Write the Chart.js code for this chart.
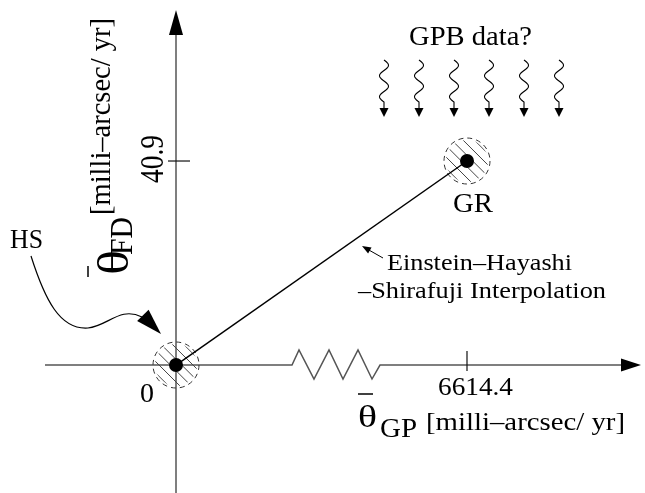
<!DOCTYPE html>
<html>
<head>
<meta charset="utf-8">
<script src="https://cdn.jsdelivr.net/npm/chart.js@4.4.1/dist/chart.umd.min.js"></script>
<style>
  html, body { margin: 0; padding: 0; background: #fff; }
  canvas { display: block; }
</style>
</head>
<body>
<canvas id="diagram" width="645" height="493"></canvas>
<script>
// values
var pointNames = ['HS', 'GR'];
var gpValues = [0, 6614.4];   // geodetic precession [milli-arcsec/yr]
var fdValues = [0, 40.9];     // frame dragging [milli-arcsec/yr]
var xTickValues = [6614.4];
var xTickLabels = ['6614.4'];
var yTickValues = [40.9];
var yTickLabels = ['40.9'];
var originLabel = '0';
var lineLabel = ['Einstein\u2013Hayashi', '\u2013Shirafuji Interpolation'];
var gpbLabel = 'GPB data?';
var axisUnit = '[milli\u2013arcsec/ yr]';

var FONT = '"Liberation Serif"';

//Draw a string squeezed/stretched to a given length
function fitText(c, str, x, y, size, len, rotate) {
  c.save();
  c.font = size + 'px ' + FONT;
  var w = c.measureText(str).width;
  c.translate(x, y);
  if (rotate) c.rotate(-Math.PI / 2);
  c.scale(len / w, 1);
  c.fillText(str, 0, 0);
  c.restore();
}

function arrowHead(c, tx, ty, dx, dy, len, half) {
  var n = Math.sqrt(dx * dx + dy * dy);
  dx /= n; dy /= n;
  var bx = tx - dx * len, by = ty - dy * len;
  c.beginPath();
  c.moveTo(tx, ty);
  c.lineTo(bx - dy * half, by + dx * half);
  c.lineTo(bx + dy * half, by - dx * half);
  c.closePath();
  c.fill();
}

function hatchCircle(c, cx, cy) {
  c.save();
  c.beginPath();
  c.arc(cx, cy, 21, 0, 2 * Math.PI);
  c.clip();
  c.strokeStyle = '#444';
  c.lineWidth = 1;
  c.beginPath();
  for (var d = -28; d <= 28; d += 8) {
    var ox = cx + d / Math.SQRT2, oy = cy - d / Math.SQRT2;
    c.moveTo(ox - 30, oy - 30);
    c.lineTo(ox + 30, oy + 30);
  }
  c.stroke();
  c.restore();
  c.save();
  c.setLineDash([5, 4]);
  c.strokeStyle = '#333';
  c.lineWidth = 1;
  c.beginPath();
  c.arc(cx, cy, 23, 0, 2 * Math.PI);
  c.stroke();
  c.restore();
}

function wavyArrow(c, cx, top) {
  c.beginPath();
  for (var t = 0; t <= 42; t++) {
    var x = cx + 4.5 * Math.sin(2 * Math.PI * t / 21);
    if (t === 0) c.moveTo(x, top + t); else c.lineTo(x, top + t);
  }
  c.lineTo(cx, top + 48);
  c.stroke();
  c.beginPath();
  c.moveTo(cx - 4.5, top + 48);
  c.lineTo(cx + 4.5, top + 48);
  c.lineTo(cx, top + 57);
  c.closePath();
  c.fill();
}

var diagramPlugin = {
  id: 'diagram',
  beforeDatasetsDraw: function (chart) {
    var c = chart.ctx;
    var xs = chart.scales.x, ys = chart.scales.y;
    var x0 = xs.getPixelForValue(0), y0 = ys.getPixelForValue(0);

    c.save();
    c.strokeStyle = '#555';
    c.fillStyle = '#000';
    c.lineWidth = 1.5;

    //vertical axis
    c.beginPath();
    c.moveTo(x0, chart.chartArea.bottom);
    c.lineTo(x0, 30);
    c.stroke();
    arrowHead(c, x0, 10, 0, -1, 25, 7);

    //horizontal axis with a break
    var zz = [[0, 0], [7, -15], [22, 14], [37, -15], [51, 14], [66, -15], [80, 14], [88, 0]];
    c.beginPath();
    c.moveTo(x0 - 131, y0);
    c.lineTo(x0 + 116, y0);
    zz.forEach(function (p) { c.lineTo(x0 + 116 + p[0], y0 + p[1]); });
    c.lineTo(x0 + 450, y0);
    c.stroke();
    arrowHead(c, x0 + 465, y0, 1, 0, 20, 6.5);

    //ticks
    c.strokeStyle = '#111';
    c.lineWidth = 1.2;
    xTickValues.forEach(function (v) {
      var px = xs.getPixelForValue(v);
      c.beginPath(); c.moveTo(px, y0 - 14); c.lineTo(px, y0 + 6); c.stroke();
    });
    yTickValues.forEach(function (v) {
      var py = ys.getPixelForValue(v);
      c.beginPath(); c.moveTo(x0 - 8, py); c.lineTo(x0 + 14, py); c.stroke();
    });
    c.restore();

    //hatched regions round each point
    for (var i = 0; i < gpValues.length; i++) {
      hatchCircle(c, xs.getPixelForValue(gpValues[i]), ys.getPixelForValue(fdValues[i]));
    }
  },
  afterDatasetsDraw: function (chart) {
    var c = chart.ctx;
    var xs = chart.scales.x, ys = chart.scales.y;
    var x0 = xs.getPixelForValue(0), y0 = ys.getPixelForValue(0);
    var gx = xs.getPixelForValue(gpValues[1]), gy = ys.getPixelForValue(fdValues[1]);

    c.save();
    c.fillStyle = '#000';
    c.strokeStyle = '#000';
    c.lineWidth = 1;

    //tick labels
    fitText(c, xTickLabels[0], xs.getPixelForValue(xTickValues[0]) - 29, y0 + 30, 25, 75);
    fitText(c, yTickLabels[0], x0 - 13, ys.getPixelForValue(yTickValues[0]) + 22, 33, 48, true);
    fitText(c, originLabel, x0 - 36, y0 + 37, 28, 14);

    //point names
    fitText(c, pointNames[1], gx - 14, gy + 51, 28, 40);
    fitText(c, pointNames[0], 10, 248, 28, 33);

    //x axis title
    fitText(c, '\u03b8', 358, 427, 32, 19);
    fitText(c, 'GP', 380, 437, 28, 37);
    fitText(c, axisUnit, 426, 430, 26, 199);
    c.lineWidth = 1.5;
    c.beginPath(); c.moveTo(358, 394); c.lineTo(373, 394); c.stroke();

    //y axis title
    fitText(c, '\u03b8', 128, 275, 44, 25, true);
    fitText(c, 'FD', 132, 255, 32, 38, true);
    fitText(c, axisUnit, 110, 215, 30, 197, true);
    c.beginPath(); c.moveTo(88, 266); c.lineTo(88, 277); c.stroke();

    //interpolation callout
    fitText(c, lineLabel[0], 387, 270, 23, 185);
    fitText(c, lineLabel[1], 358, 298, 23, 248);
    c.lineWidth = 1;
    c.beginPath(); c.moveTo(383, 258); c.lineTo(368, 249.5); c.stroke();
    arrowHead(c, 362, 246, -21, -12, 9, 3.5);

    //HS arrow
    c.lineWidth = 1.2;
    c.beginPath();
    c.moveTo(31, 256);
    c.bezierCurveTo(45, 300, 60, 330, 88, 328);
    c.bezierCurveTo(108, 326, 120, 306, 142, 317);
    c.stroke();
    arrowHead(c, 161, 334, 18, 18.5, 26, 8);

    //GPB data
    fitText(c, gpbLabel, 409, 45, 27, 123);
    c.lineWidth = 1.1;
    for (var i = 0; i < 6; i++) wavyArrow(c, 384 + 35 * i, 60);

    c.restore();
  }
};

var points = gpValues.map(function (v, i) { return { x: v, y: fdValues[i] }; });

new Chart(document.getElementById('diagram'), {
  type: 'scatter',
  data: {
    datasets: [{
      label: 'Einstein-Hayashi-Shirafuji',
      data: points,
      showLine: true,
      borderColor: '#000',
      borderWidth: 1.5,
      pointRadius: 7,
      pointBorderWidth: 0,
      pointBackgroundColor: '#000'
    }]
  },
  options: {
    responsive: false,
    animation: false,
    events: [],
    layout: { padding: 0, autoPadding: false },
    plugins: { legend: { display: false }, tooltip: { enabled: false } },
    scales: {
      x: { type: 'linear', min: -4000.5, max: 10660.4, display: false },
      y: { type: 'linear', min: -25.66, max: 73.18, display: false }
    }
  },
  plugins: [diagramPlugin]
});
</script>
</body>
</html>
